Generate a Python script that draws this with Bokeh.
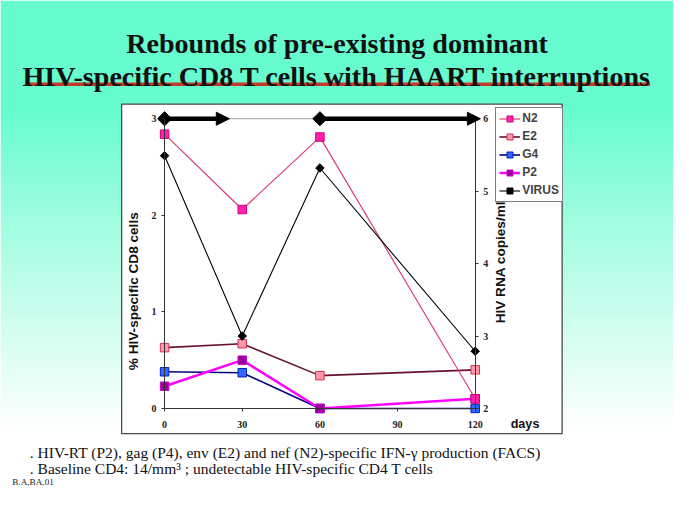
import numpy as np
from math import pi
from bokeh.plotting import figure
from bokeh.models import (Range1d, LinearAxis, FixedTicker, Legend, LegendItem,
                          Label, Arrow, NormalHead, ColumnDataSource)
from bokeh.embed import file_html
from bokeh.resources import INLINE

# ---------------- data ----------------
days = [0, 30, 60, 120]
n2 = [2.84, 2.06, 2.81, 0.10]
e2 = [0.63, 0.67, 0.34, 0.40]
g4 = [0.38, 0.37, 0.00, 0.00]
p2 = [0.23, 0.50, 0.00, 0.10]
virus = [5.49, 3.00, 5.32, 2.79]
haart_start = [0, 60]
haart_end = [25, 122]
haart_level = [3, 3]
day_ticks = [0, 30, 60, 90, 120]
cd8_ticks = [0, 1, 2, 3]
rna_ticks = [2, 3, 4, 5, 6]

title_lines = ["Rebounds of pre-existing dominant",
               "HIV-specific CD8 T cells with HAART interruptions"]
note_lines = [". HIV-RT (P2), gag (P4), env (E2) and nef (N2)-specific IFN-\u03b3 production (FACS)",
              ". Baseline CD4: 14/mm\u00b3 ; undetectable HIV-specific CD4 T cells"]
credit = "B.A,BA,01"
y_left_title = "% HIV-specific CD8 cells"
y_right_title = "HIV RNA copies/ml"
x_title = "days"

# ---------------- layout helpers ----------------
W, H = 673, 501
SX, SY = W / 689.0, H / 517.0


def px(wx):
    return wx * SX


def py(wy):
    return H - wy * SY


def fs(v):
    return "%.1fpx" % (v * SY)


FX0, FX1 = px(168), px(486)
FY0, FY1 = py(421), py(122)


def extra(lo, hi, a0, a1, total):
    s = (a1 - a0) / (hi - lo)
    return Range1d(lo - a0 / s, hi + (total - a1) / s)


p = figure(width=W, height=H, x_range=Range1d(0, W), y_range=Range1d(0, H),
           x_axis_type=None, y_axis_type=None, min_border=0, title=None,
           toolbar_location=None, output_backend="svg")
p.outline_line_color = None
p.border_fill_color = "white"
p.extra_x_ranges = {"days": extra(day_ticks[0], day_ticks[-1], FX0, FX1, W)}
p.extra_y_ranges = {"cd8": extra(cd8_ticks[0], cd8_ticks[-1], FY0, FY1, H),
                    "rna": extra(rna_ticks[0], rna_ticks[-1], FY0, FY1, H)}

# background gradient (aqua at top, white at bottom)
ny, nx = 251, 337
rows = (np.arange(ny) + 0.5) * H / ny
wy = (H - rows) / SY
t = np.clip((wy - 115) / 330.0, 0, 1) ** 0.9
aqua = np.array([102, 252, 206], dtype=float)
col = aqua[None, :] * (1 - t[:, None]) + 255 * t[:, None]
img = np.empty((ny, nx), dtype=np.uint32)
view = img.view(dtype=np.uint8).reshape((ny, nx, 4))
view[:, :, 0] = col[:, 0:1].astype(np.uint8)
view[:, :, 1] = col[:, 1:2].astype(np.uint8)
view[:, :, 2] = col[:, 2:3].astype(np.uint8)
view[:, :, 3] = 255
p.image_rgba(image=[img], x=0, y=0, dw=W, dh=H)

# white chart box
p.quad(left=px(124), right=px(575), top=py(107), bottom=py(447),
       fill_color="white", line_color="#4a4a4a", line_width=1.3)

# plot-area top border
p.line(x=[day_ticks[0], day_ticks[-1]], y=[cd8_ticks[-1]] * 2,
       line_color="#a0a0a0", line_width=1, x_range_name="days", y_range_name="cd8")

# title
for txt, base in zip(title_lines, [44, 78]):
    p.add_layout(Label(x=W / 2, y=py(base), text=txt, text_align="center",
                       text_baseline="alphabetic", text_font="Liberation Serif",
                       text_font_style="bold", text_font_size=fs(29), text_color="#111111"))
p.line(x=[px(26), px(665)], y=[py(86.5)] * 2, line_color="#C23A2A", line_width=3.5)

# notes
for txt, yy in zip(note_lines, [466, 483]):
    p.add_layout(Label(x=px(30), y=py(yy), text=txt, text_align="left",
                       text_baseline="middle", text_font="Liberation Serif",
                       text_font_size=fs(16), text_color="#111111"))
p.add_layout(Label(x=px(12), y=py(497), text=credit, text_align="left",
                   text_baseline="middle", text_font="Liberation Serif",
                   text_font_size=fs(9.5), text_color="#222222"))

# series
rng = dict(x_range_name="days", y_range_name="cd8")
series = [
    ("E2", e2, "#661133", 1.6, "#FF99AA", "#CC3355"),
    ("G4", g4, "#000080", 1.6, "#3366FF", "#0022BB"),
    ("P2", p2, "#FF00FF", 2.4, "#990099", "#CC00CC"),
    ("N2", n2, "#D9406A", 1.2, "#FF22AA", "#CC0077"),
]
rends = {}
for name, vals, lc, lw, fc, mc in series:
    rl = p.line(days, vals, line_color=lc, line_width=lw, **rng)
    rp = p.scatter(days, vals, marker="square", size=8.5, fill_color=fc,
                   line_color=mc, line_width=1, **rng)
    rends[name] = [rl, rp]

vl = p.line(days, virus, line_color="black", line_width=1.1,
            x_range_name="days", y_range_name="rna")
vp = p.scatter(days, virus, marker="square", angle=pi / 4, size=6, color="black",
               x_range_name="days", y_range_name="rna")
rends["VIRUS"] = [vl, vp]

# HAART arrows
asrc = ColumnDataSource(dict(x0=haart_start, x1=haart_end, y=haart_level))
p.add_layout(Arrow(x_start="x0", y_start="y", x_end="x1", y_end="y", source=asrc,
                   line_width=4.5, line_color="black",
                   end=NormalHead(size=13, fill_color="black", line_color="black"),
                   **rng))
p.scatter(haart_start, haart_level, marker="square", angle=pi / 4, size=10,
          color="black", **rng)

# axes


def style_axis(ax, standoff):
    ax.axis_line_color = "#333333"
    ax.axis_line_width = 1
    ax.major_tick_line_color = "#333333"
    ax.major_tick_out = 3
    ax.major_tick_in = 0
    ax.minor_tick_line_color = None
    ax.major_label_text_font = "Liberation Serif"
    ax.major_label_text_font_style = "bold"
    ax.major_label_text_font_size = "10px"
    ax.major_label_text_color = "#222222"
    ax.major_label_standoff = standoff


xax = LinearAxis(x_range_name="days", y_range_name="cd8", fixed_location=cd8_ticks[0],
                 bounds=(day_ticks[0], day_ticks[-1]), ticker=FixedTicker(ticks=day_ticks))
style_axis(xax, 10)
p.add_layout(xax, "below")

lax = LinearAxis(x_range_name="days", y_range_name="cd8", fixed_location=day_ticks[0],
                 bounds=(cd8_ticks[0], cd8_ticks[-1]), ticker=FixedTicker(ticks=cd8_ticks))
style_axis(lax, 5)
p.add_layout(lax, "left")

rax = LinearAxis(x_range_name="days", y_range_name="rna", fixed_location=day_ticks[-1],
                 bounds=(rna_ticks[0], rna_ticks[-1]), ticker=FixedTicker(ticks=rna_ticks))
style_axis(rax, 5)
p.add_layout(rax, "right")

# axis titles
p.add_layout(Label(x=px(136), y=py(300), text=y_left_title, angle=pi / 2,
                   text_align="center", text_baseline="middle", text_font="Liberation Sans",
                   text_font_style="bold", text_font_size=fs(14), text_color="#111111"))
p.add_layout(Label(x=px(512), y=py(270), text=y_right_title, angle=pi / 2,
                   text_align="center", text_baseline="middle", text_font="Liberation Sans",
                   text_font_style="bold", text_font_size=fs(14), text_color="#111111"))
p.add_layout(Label(x=px(537), y=py(437), text=x_title, text_align="center",
                   text_baseline="middle", text_font="Liberation Sans",
                   text_font_style="bold", text_font_size=fs(13), text_color="#111111"))

# legend
order = ["N2", "E2", "G4", "P2", "VIRUS"]
legend = Legend(items=[LegendItem(label=k, renderers=rends[k]) for k in order],
                location=(px(507), py(208)), orientation="vertical",
                label_text_font="Liberation Sans", label_text_font_style="bold",
                label_text_font_size="12px", glyph_width=21, glyph_height=15,
                label_height=15, spacing=3, padding=3, margin=0, label_standoff=2,
                border_line_color="black", border_line_width=1,
                background_fill_color="white", background_fill_alpha=1)
p.add_layout(legend)

open("out.html", "w").write(file_html(p, INLINE))
